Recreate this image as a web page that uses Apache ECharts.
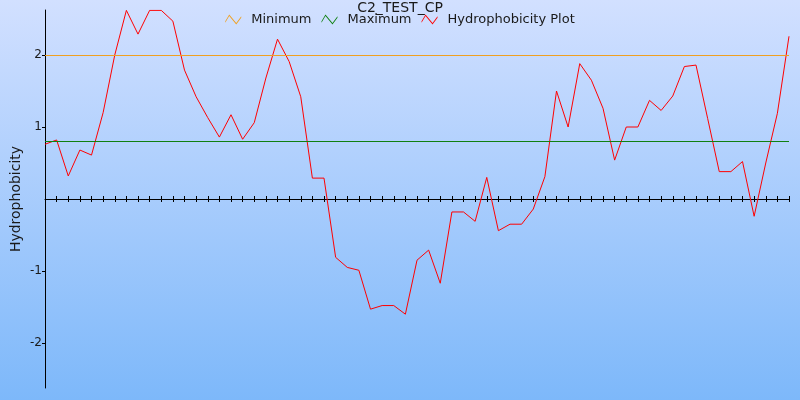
<!DOCTYPE html>
<html>
<head>
<meta charset="utf-8">
<script src="https://cdn.jsdelivr.net/npm/echarts@6/dist/echarts.min.js"></script>
<style>html,body{margin:0;padding:0;}#c{width:800px;height:400px;}</style>
</head>
<body>
<div id="c"></div>
<script>
var titleText = 'C2_TEST_CP';
var yAxisName = 'Hydrophobicity';
var seriesNames = ['Minimum', 'Maximum', 'Hydrophobicity Plot'];
var positions = [1,2,3,4,5,6,7,8,9,10,11,12,13,14,15,16,17,18,19,20,21,22,23,24,25,26,27,28,29,30,31,32,33,34,35,36,37,38,39,40,41,42,43,44,45,46,47,48,49,50,51,52,53,54,55,56,57,58,59,60,61,62,63,64,65];
var hydro = [0.76,0.82,0.32,0.68,0.61,1.20,2.00,2.62,2.29,2.62,2.62,2.47,1.79,1.42,1.13,0.86,1.17,0.83,1.06,1.68,2.22,1.91,1.42,0.29,0.29,-0.81,-0.95,-0.99,-1.53,-1.48,-1.48,-1.60,-0.85,-0.71,-1.17,-0.18,-0.18,-0.31,0.30,-0.44,-0.35,-0.35,-0.14,0.31,1.50,1.00,1.88,1.65,1.26,0.54,1.00,1.00,1.37,1.23,1.43,1.84,1.86,1.12,0.38,0.38,0.52,-0.24,0.50,1.19,2.26];
var minimumValue = 2.0;
var maximumValue = 0.8;
var yMin = -2.625, yMax = 2.625;
var yTicks = [-2, -1, 1, 2];

var font = 'DejaVu Sans';
var zig = 'path://M0,8 L4,0 L11,10 L16,2 L16,3.8 L11,11.8 L4,1.8 L0,9.8 Z';
var chart = echarts.init(document.getElementById('c'), null, {renderer: 'canvas'});
chart.setOption({
  animation: false,
  backgroundColor: {type: 'linear', x: 0, y: 0, x2: 0, y2: 1,
    colorStops: [{offset: 0, color: '#d2e0ff'}, {offset: 1, color: '#7db8fa'}]},
  title: {text: titleText, left: 'center', top: -4,
    textStyle: {fontFamily: font, fontSize: 14, fontWeight: 'normal', color: '#1a1a1a'}},
  legend: {top: 8, left: 'center', itemWidth: 16, itemHeight: 10, itemGap: 10,
    icon: zig, symbolKeepAspect: false,
    itemStyle: {borderWidth: 0},
    textStyle: {fontFamily: font, fontSize: 13, color: '#1a1a1a', padding: [0, 0, 0, 5]},
    data: seriesNames},
  grid: {left: 45, right: 11, top: 10, bottom: 12, outerBoundsMode: 'none', containLabel: false},
  xAxis: [{
    type: 'category', data: positions, boundaryGap: false, position: 'bottom',
    axisLine: {onZero: true, onZeroAxisIndex: 0, lineStyle: {color: '#000', width: 1}},
    axisTick: {show: true, interval: 0, length: 3, inside: false, lineStyle: {color: '#000'}},
    axisLabel: {show: false}, splitLine: {show: false}
  }, {
    type: 'category', data: positions, boundaryGap: false, position: 'bottom',
    axisLine: {show: false, onZero: true, onZeroAxisIndex: 1},
    axisTick: {show: true, interval: 0, length: 3, inside: true, lineStyle: {color: '#000'}},
    axisLabel: {show: false}, splitLine: {show: false}
  }],
  yAxis: [{
    type: 'value', min: yMin, max: yMax, position: 'left',
    name: yAxisName, nameLocation: 'middle', nameGap: 22, nameRotate: 90, nameMoveOverlap: false,
    nameTextStyle: {fontFamily: font, fontSize: 14, color: '#1a1a1a'},
    axisLine: {show: true, onZero: false, lineStyle: {color: '#000', width: 1}},
    axisTick: {show: true, length: 3, customValues: yTicks, lineStyle: {color: '#000'}},
    axisLabel: {customValues: yTicks, margin: 3, fontFamily: font, fontSize: 12, color: '#1a1a1a'},
    splitLine: {show: false}
  }, {
    type: 'value', min: yMin, max: yMax, position: 'right',
    axisLine: {show: false, onZero: false}, axisTick: {show: false},
    axisLabel: {show: false}, splitLine: {show: false}
  }],
  series: [{
    name: seriesNames[0], type: 'line', data: [], color: '#f0a020', showSymbol: false,
    lineStyle: {color: '#f0a020', width: 1},
    markLine: {silent: true, symbol: 'none', label: {show: false},
      lineStyle: {color: '#f0a020', width: 1, type: 'solid'}, data: [{yAxis: minimumValue}]}
  }, {
    name: seriesNames[1], type: 'line', data: [], color: '#108010', showSymbol: false,
    lineStyle: {color: '#108010', width: 1},
    markLine: {silent: true, symbol: 'none', label: {show: false},
      lineStyle: {color: '#108010', width: 1, type: 'solid'}, data: [{yAxis: maximumValue}]}
  }, {
    name: seriesNames[2], type: 'line', data: hydro, color: '#ff0000',
    showSymbol: false, symbol: 'none', lineStyle: {color: '#ff0000', width: 1}
  }]
});
</script>
</body>
</html>
